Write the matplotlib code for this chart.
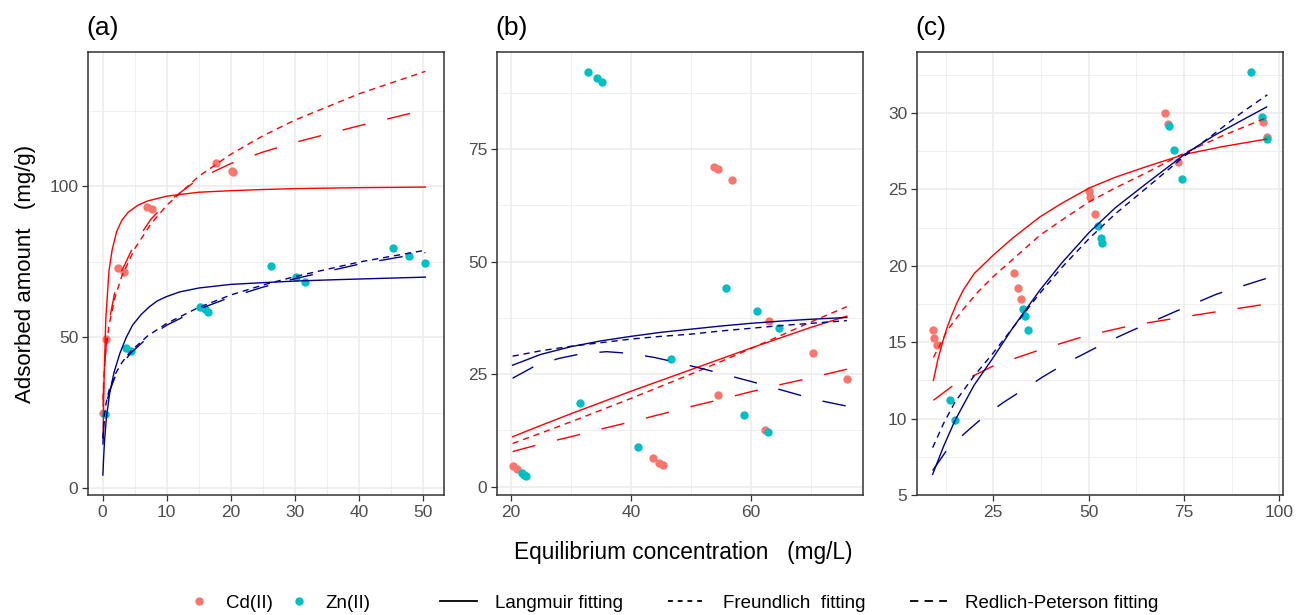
import matplotlib
matplotlib.use("Agg")
import matplotlib.pyplot as plt
from matplotlib.lines import Line2D

plt.rcParams["font.family"] = ["Liberation Sans", "DejaVu Sans"]
plt.rcParams["lines.scale_dashes"] = False

# ---- panel (a) ----
a_cd_x = [0.0, 0.5, 2.4, 3.3, 6.9, 7.7, 17.7, 20.1, 20.4]
a_cd_y = [24.8, 49.4, 72.8, 71.7, 93.2, 92.4, 107.6, 105.1, 104.6]
a_zn_x = [0.36, 3.7, 4.4, 15.2, 15.9, 16.4, 26.3, 30.1, 31.5, 45.3, 47.8, 50.3]
a_zn_y = [24.6, 46.4, 45.6, 60.1, 59.3, 58.5, 73.6, 69.9, 68.4, 79.7, 77.0, 74.5]

a_cd_lang_x = [0.08, 0.2, 0.5, 1.0, 1.5, 2.2, 3.0, 4.0, 5.5, 7.0, 10, 15, 20, 25, 30, 40, 50.3]
a_cd_lang_y = [17, 33, 56, 72, 79, 85, 88.7, 91.4, 93.7, 95.1, 96.7, 98.0, 98.5, 98.9, 99.2, 99.5, 99.7]
a_cd_fit_x = [0.08, 0.2, 0.5, 1, 2, 3, 5, 7.5, 10, 15, 20, 25, 30, 40, 50.3]
a_cd_freu_y = [29.4, 36.6, 45.6, 53.9, 63.7, 70.2, 79.3, 87.4, 93.7, 103.3, 110.6, 116.7, 121.9, 130.6, 138.0]
a_cd_rp_y = [27, 36, 46, 55, 66, 72, 81, 89, 94.5, 102.5, 107.5, 111.3, 114.5, 120, 125.3]

a_zn_lang_x = [0.05, 0.15, 0.3, 0.6, 1.1, 1.8, 2.7, 3.7, 4.7, 6, 7.3, 8.5, 9.9, 12, 15, 20, 25.3, 30, 35.6, 42, 50.3]
a_zn_lang_y = [4.4, 9.5, 15.5, 23.5, 31.4, 38.5, 44.7, 50, 54.1, 57.5, 60.1, 62.0, 63.4, 65.0, 66.3, 67.5, 68.1, 68.6, 69.0, 69.4, 69.9]
a_zn_fit_x = [0.05, 0.2, 0.5, 1, 2, 3, 4.4, 7, 10, 15, 20, 25, 30, 40, 50.3]
a_zn_freu_y = [16.4, 22.5, 27.7, 32.4, 37.9, 41.6, 45.4, 50.4, 54.6, 59.9, 64.0, 67.3, 70.1, 74.9, 78.8]
a_zn_rp_y = [14.5, 21, 26.8, 31.6, 37.2, 41.0, 44.8, 49.8, 54.0, 59.3, 63.3, 66.6, 69.4, 74.2, 78.0]

# ---- panel (b) ----
b_cd_x = [20.3, 21.1, 43.7, 44.7, 45.3, 53.9, 54.5, 56.8, 54.5, 63.1, 62.4, 70.3, 76.0]
b_cd_y = [4.7, 3.9, 6.3, 5.2, 4.8, 71.1, 70.6, 68.2, 20.4, 36.9, 12.6, 29.8, 23.9]
b_zn_x = [21.8, 22.2, 22.6, 32.9, 34.3, 35.2, 31.6, 41.2, 46.7, 55.9, 58.9, 61.1, 62.8, 64.7]
b_zn_y = [3.1, 2.7, 2.4, 92.2, 90.8, 89.9, 18.5, 8.8, 28.4, 44.2, 16.0, 39.0, 12.2, 35.3]

b_fit_x = [20.3, 25, 30, 35, 40, 45, 50, 55, 60, 65, 70, 76]
b_cd_lang_y = [11.1, 13.6, 16.2, 18.7, 21.2, 23.6, 26.0, 28.4, 30.8, 33.1, 35.4, 37.9]
b_cd_freu_y = [9.6, 11.9, 14.4, 17.0, 19.6, 22.3, 25.0, 27.8, 30.7, 33.6, 36.6, 40.0]
b_cd_rp_y = [7.8, 9.5, 11.1, 12.8, 14.4, 16.1, 17.8, 19.4, 21.1, 22.7, 24.2, 26.1]
b_zn_lang_y = [27.0, 29.4, 31.1, 32.4, 33.4, 34.3, 35.0, 35.7, 36.3, 36.8, 37.2, 37.6]
b_zn_freu_y = [29.0, 30.2, 31.2, 32.0, 32.8, 33.4, 33.9, 34.6, 35.2, 35.8, 36.3, 36.9]
b_zn_rp_x = [20.3, 24, 28, 32, 36, 40, 44, 48, 52, 56, 60, 64, 68, 72, 76]
b_zn_rp_y = [24.1, 26.8, 28.5, 29.6, 30.0, 29.6, 28.7, 27.5, 26.2, 24.8, 23.4, 21.9, 20.4, 19.0, 17.9]

# ---- panel (c) ----
c_cd_x = [9.1, 9.5, 10.2, 30.5, 31.4, 32.2, 50.2, 50.5, 51.7, 70.1, 70.8, 73.5, 95.8, 96.7]
c_cd_y = [15.8, 15.3, 14.8, 19.5, 18.55, 17.8, 24.9, 24.5, 23.4, 30.0, 29.3, 26.8, 29.4, 28.45]
c_zn_x = [13.6, 15.0, 32.9, 33.3, 34.2, 52.4, 53.2, 53.6, 71.0, 72.5, 74.4, 92.5, 95.5, 96.9]
c_zn_y = [11.2, 9.9, 17.2, 16.7, 15.8, 22.6, 21.85, 21.5, 29.15, 27.6, 25.7, 32.7, 29.75, 28.3]

c_cd_lang_x = [9.3, 10.5, 11.7, 12.8, 14, 15.5, 17.1, 20, 25, 30, 37.2, 43, 50.2, 57, 65.2, 75.2, 85, 96.7]
c_cd_lang_y = [12.5, 13.9, 15.0, 15.9, 16.7, 17.6, 18.4, 19.5, 20.7, 21.8, 23.2, 24.1, 25.1, 25.8, 26.5, 27.3, 27.8, 28.3]
c_cd_freu_x = [9.3, 13, 17.1, 21, 25, 30, 37.2, 43, 50.2, 57, 65.2, 75.2, 85, 96.7]
c_cd_freu_y = [14.0, 15.8, 17.15, 18.3, 19.3, 20.4, 22.0, 23.0, 24.2, 25.1, 26.1, 27.4, 28.5, 29.7]
c_cd_rp_x = [9.3, 14.1, 25.4, 37.2, 49.0, 61.3, 73.5, 86.2, 96.7]
c_cd_rp_y = [11.2, 12.1, 13.5, 14.5, 15.4, 16.1, 16.6, 17.1, 17.5]

c_zn_lang_x = [9.1, 12, 15, 20, 25, 30, 37.2, 43, 50.2, 57, 65.2, 75.2, 82.7, 90, 96.7]
c_zn_lang_y = [6.35, 8.2, 9.9, 12.2, 14.0, 15.9, 18.4, 20.2, 22.2, 23.8, 25.4, 27.3, 28.5, 29.5, 30.4]
c_zn_freu_x = [9.1, 12, 15, 20, 25, 30, 37.2, 43, 50.2, 57, 65.2, 75.2, 82.7, 90, 96.9]
c_zn_freu_y = [8.1, 9.7, 11.1, 12.8, 14.3, 15.9, 18.2, 19.9, 21.8, 23.4, 25.1, 27.2, 28.6, 30.0, 31.2]
c_zn_rp_x = [9.1, 13, 17.8, 22.4, 27.6, 32.9, 38.1, 44.2, 54.7, 60.8, 72.2, 83.6, 96.9]
c_zn_rp_y = [6.6, 8.0, 9.1, 10.1, 11.05, 11.9, 12.75, 13.65, 15.0, 15.7, 16.95, 18.15, 19.2]

CD_PT, ZN_PT = "#F8766D", "#00BFC4"
CD_LN, ZN_LN = "#FF0000", "#00008B"
FREU = (0, (4.5, 3.5))
RP = (0, (17, 16))

W, H = 1298, 615
fig = plt.figure(figsize=(W / 100, H / 100), dpi=100)


def make_ax(left, right):
    return fig.add_axes([left / W, (H - 495) / H, (right - left) / W, (495 - 52) / H])


def style(ax, xlim, ylim, xmaj, xmin, ymaj, ymin):
    ax.set_xlim(xlim)
    ax.set_ylim(ylim)
    ax.set_xticks(xmaj)
    ax.set_xticks(xmin, minor=True)
    ax.set_yticks(ymaj)
    ax.set_yticks(ymin, minor=True)
    ax.grid(which="major", color="#EBEBEB", lw=1.1)
    ax.grid(which="minor", color="#EBEBEB", lw=0.55)
    ax.set_axisbelow(True)
    ax.tick_params(which="major", direction="out", length=4, width=0.9,
                   color="#333333", labelsize=12.5, labelcolor="#4D4D4D", pad=3)
    ax.tick_params(which="minor", length=0)
    for s in ax.spines.values():
        s.set_color("#333333")
        s.set_linewidth(1.1)


def draw(ax, cd, zn, curves):
    ax.plot(cd[0], cd[1], "o", ms=5, color=CD_PT, zorder=2)
    ax.plot(zn[0], zn[1], "o", ms=5, color=ZN_PT, zorder=2)
    for x, y, c, ls in curves:
        ax.plot(x, y, color=c, ls=ls, lw=1.0, zorder=3)


ax_a = make_ax(88, 444)
draw(ax_a, (a_cd_x, a_cd_y), (a_zn_x, a_zn_y), [
    (a_cd_lang_x, a_cd_lang_y, CD_LN, "-"),
    (a_cd_fit_x, a_cd_freu_y, CD_LN, FREU),
    (a_cd_fit_x, a_cd_rp_y, CD_LN, RP),
    (a_zn_lang_x, a_zn_lang_y, ZN_LN, "-"),
    (a_zn_fit_x, a_zn_freu_y, ZN_LN, FREU),
    (a_zn_fit_x, a_zn_rp_y, ZN_LN, RP),
])
style(ax_a, (-2.27, 53.2), (-2.2, 144.4), [0, 10, 20, 30, 40, 50],
      [5, 15, 25, 35, 45], [0, 50, 100], [25, 75, 125])

ax_b = make_ax(497, 863)
draw(ax_b, (b_cd_x, b_cd_y), (b_zn_x, b_zn_y), [
    (b_fit_x, b_cd_lang_y, CD_LN, "-"),
    (b_fit_x, b_cd_freu_y, CD_LN, FREU),
    (b_fit_x, b_cd_rp_y, CD_LN, RP),
    (b_fit_x, b_zn_lang_y, ZN_LN, "-"),
    (b_fit_x, b_zn_freu_y, ZN_LN, FREU),
    (b_zn_rp_x, b_zn_rp_y, ZN_LN, RP),
])
style(ax_b, (17.7, 78.7), (-1.85, 96.6), [20, 40, 60], [30, 50, 70],
      [0, 25, 50, 75], [12.5, 37.5, 62.5, 87.5])

ax_c = make_ax(917, 1283)
draw(ax_c, (c_cd_x, c_cd_y), (c_zn_x, c_zn_y), [
    (c_cd_lang_x, c_cd_lang_y, CD_LN, "-"),
    (c_cd_freu_x, c_cd_freu_y, CD_LN, FREU),
    (c_cd_rp_x, c_cd_rp_y, CD_LN, RP),
    (c_zn_lang_x, c_zn_lang_y, ZN_LN, "-"),
    (c_zn_freu_x, c_zn_freu_y, ZN_LN, FREU),
    (c_zn_rp_x, c_zn_rp_y, ZN_LN, RP),
])
style(ax_c, (5.0, 101.0), (5.0, 34.0), [25, 50, 75, 100], [12.5, 37.5, 62.5, 87.5],
      [5, 10, 15, 20, 25, 30], [7.5, 12.5, 17.5, 22.5, 27.5, 32.5])

# panel tags
for lbl, left in [("(a)", 86), ("(b)", 495), ("(c)", 915)]:
    fig.text(left / W, (H - 35) / H, lbl, fontsize=19, va="baseline", ha="left")

fig.text(683 / W, (H - 559) / H, "Equilibrium concentration   (mg/L)",
         fontsize=16.3, ha="center", va="baseline")
fig.text(26 / W, (H - 274) / H, "Adsorbed amount   (mg/g)", fontsize=16,
         rotation=90, ha="center", va="center")

# legends
pt_handles = [Line2D([], [], ls="none", marker="o", ms=5, color=CD_PT),
              Line2D([], [], ls="none", marker="o", ms=5, color=ZN_PT)]
fig.legend(pt_handles, ["Cd(II)", "Zn(II)"], loc="center left",
           bbox_to_anchor=(190 / W, 12 / H), ncol=2, frameon=False, fontsize=13.5,
           handlelength=1.0, handletextpad=0.9, columnspacing=0.9,
           borderpad=0, borderaxespad=0)

ln_handles = [Line2D([], [], color="black", lw=1.3),
              Line2D([], [], color="black", lw=1.3, ls=(0, (3.5, 3.5))),
              Line2D([], [], color="black", lw=1.3, ls=(0, (6, 4.5)))]
fig.legend(ln_handles, ["Langmuir fitting", "Freundlich  fitting", "Redlich-Peterson fitting"],
           loc="center left", bbox_to_anchor=(440 / W, 12 / H), ncol=3, frameon=False,
           fontsize=13.5, handlelength=1.97, handletextpad=0.96, columnspacing=2.4,
           borderpad=0, borderaxespad=0)

fig.savefig("out.png", dpi=100)
